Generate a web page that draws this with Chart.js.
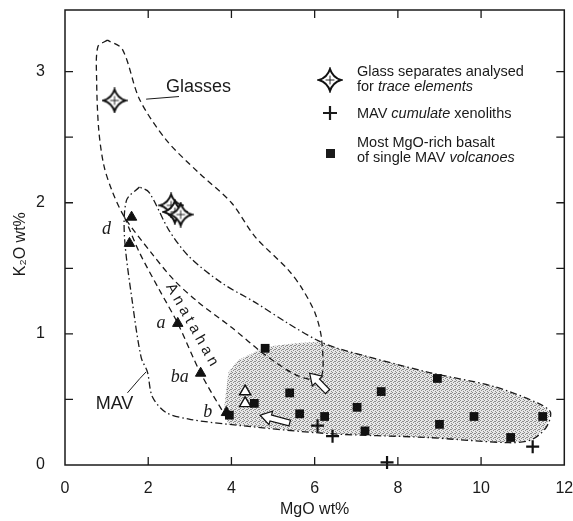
<!DOCTYPE html>
<html>
<head>
<meta charset="utf-8">
<script src="https://cdn.jsdelivr.net/npm/chart.js@4.4.1/dist/chart.umd.min.js"></script>
<style>
  html, body { margin: 0; padding: 0; background: #fff; }
  canvas { display: block; }
</style>
</head>
<body>
<canvas id="chart" width="573" height="521"></canvas>
<script>
// x = MgO wt%, y = K2O wt%
const glassMgO = [1.19, 2.55, 2.64, 2.78];
const glassK2O = [2.78, 1.98, 1.93, 1.91];

const xenoMgO = [6.07, 6.43, 7.74, 11.24];
const xenoK2O = [0.30, 0.22, 0.02, 0.14];

const basaltMgO = [3.95, 4.55, 4.81, 5.40, 5.64, 6.24, 7.02, 7.21, 7.60, 8.95, 9.00, 9.83, 10.71, 11.48];
const basaltK2O = [0.38, 0.47, 0.89, 0.55, 0.39, 0.37, 0.44, 0.26, 0.56, 0.66, 0.31, 0.37, 0.21, 0.37];

// Anatahan samples (d, d, a, ba, b) and the two open triangles
const anaMgO = [1.60, 1.55, 2.71, 3.26, 3.88];
const anaK2O = [1.89, 1.69, 1.08, 0.70, 0.40];
const openTriMgO = [4.33, 4.33];
const openTriK2O = [0.56, 0.47];

// field outlines
const glassEnvMgO = [1.02, 0.79, 0.76, 0.81, 0.93, 1.12, 1.43, 2.07, 2.62, 3.21, 4.00, 4.81, 5.60, 6.14, 6.17, 6.02, 5.71, 5.36, 4.57, 4.00, 3.21, 2.43, 1.79, 1.38, 1.02];
const glassEnvK2O = [3.24, 3.19, 2.94, 2.56, 2.29, 2.10, 1.89, 1.62, 1.41, 1.24, 1.05, 0.84, 0.68, 0.66, 0.95, 1.15, 1.34, 1.49, 1.74, 2.00, 2.23, 2.48, 2.79, 3.17, 3.24];

const anaLineMgO = [1.43, 1.79, 2.26, 2.71, 3.26, 3.88];
const anaLineK2O = [1.89, 1.62, 1.34, 1.08, 0.70, 0.36];

const mavEnvMgO = [1.79, 1.48, 1.43, 1.62, 1.83, 1.98, 2.10, 2.43, 2.98, 3.93, 6.31, 8.69, 10.67, 11.19, 11.55, 11.67, 11.38, 10.29, 8.69, 6.55, 6.07, 5.36, 4.57, 3.76, 2.98, 2.50, 2.02, 1.79];
const mavEnvK2O = [2.12, 2.02, 1.74, 1.24, 0.82, 0.71, 0.52, 0.40, 0.35, 0.31, 0.24, 0.21, 0.17, 0.19, 0.28, 0.40, 0.47, 0.60, 0.71, 0.89, 0.95, 1.08, 1.24, 1.39, 1.59, 1.79, 2.08, 2.12];

const shadeMgO = [3.81, 3.93, 4.17, 4.81, 5.60, 6.07, 6.55, 8.69, 10.29, 11.38, 11.67, 11.55, 11.19, 10.67, 8.69, 6.31, 3.93];
const shadeK2O = [0.40, 0.71, 0.80, 0.90, 0.93, 0.94, 0.89, 0.71, 0.60, 0.47, 0.40, 0.28, 0.19, 0.17, 0.21, 0.24, 0.31];

// open arrows: tail -> tip
const arrowTailMgO = [6.31, 5.40];
const arrowTailK2O = [0.56, 0.32];
const arrowTipMgO = [5.88, 4.69];
const arrowTipK2O = [0.70, 0.38];

// axis ticks
const xTickValues = [0, 2, 4, 6, 8, 10, 12];
const yTickValues = [0, 0.5, 1, 1.5, 2, 2.5, 3];

// text labels in the plot
const noteText = ['Glasses', 'MAV', 'd', 'a', 'ba', 'b'];
const noteMgO = [3.21, 1.19, 1.00, 2.31, 2.76, 3.43];
const noteK2O = [2.885, 0.466, 1.80, 1.08, 0.67, 0.40];

function pts(xs, ys) {
    return xs.map((x, i) => ({ x: x, y: ys[i] }));
}

function makeStar(R) {
    let c = document.createElement('canvas');
    let s = Math.ceil(R * 2 + 4);
    c.width = s;
    c.height = s;
    let g = c.getContext('2d');
    let m = s / 2;
    let k = R * 0.24;
    g.beginPath();
    g.moveTo(m, m - R);
    g.quadraticCurveTo(m + k, m - k, m + R, m);
    g.quadraticCurveTo(m + k, m + k, m, m + R);
    g.quadraticCurveTo(m - k, m + k, m - R, m);
    g.quadraticCurveTo(m - k, m - k, m, m - R);
    g.closePath();
    g.fillStyle = '#fff';
    g.fill();
    g.lineWidth = 2;
    g.strokeStyle = '#111';
    g.stroke();
    g.lineWidth = 0.9;
    g.beginPath();
    g.moveTo(m, m - R * 0.4);
    g.lineTo(m, m + R * 0.4);
    g.moveTo(m - R * 0.4, m);
    g.lineTo(m + R * 0.4, m);
    g.stroke();
    return c;
}
const starImg = makeStar(11);

function makeStipple() {
    let c = document.createElement('canvas');
    c.width = 4;
    c.height = 4;
    let g = c.getContext('2d');
    g.fillStyle = '#e8e8e8';
    g.fillRect(0, 0, 4, 4);
    g.fillStyle = '#8c8c8c';
    [[0, 0], [2, 1], [1, 2], [3, 3], [3, 1]].forEach(p => g.fillRect(p[0], p[1], 1, 1));
    return c;
}

function drawOpenArrow(ctx, x1, y1, x2, y2) {
    let L = Math.hypot(x2 - x1, y2 - y1);
    let a = Math.atan2(y2 - y1, x2 - x1);
    let hl = 11, hw = 7, sw = 3;
    ctx.save();
    ctx.translate(x1, y1);
    ctx.rotate(a);
    ctx.beginPath();
    ctx.moveTo(0, -sw);
    ctx.lineTo(L - hl, -sw);
    ctx.lineTo(L - hl, -hw);
    ctx.lineTo(L, 0);
    ctx.lineTo(L - hl, hw);
    ctx.lineTo(L - hl, sw);
    ctx.lineTo(0, sw);
    ctx.closePath();
    ctx.fillStyle = '#fff';
    ctx.fill();
    ctx.lineWidth = 1.2;
    ctx.strokeStyle = '#111';
    ctx.setLineDash([]);
    ctx.stroke();
    ctx.restore();
}

const shadePlugin = {
    id: 'shade',
    beforeDatasetsDraw(chart) {
        let ctx = chart.ctx;
        let xs = chart.scales.x, ys = chart.scales.y;
        ctx.save();
        ctx.beginPath();
        shadeMgO.forEach((v, i) => {
            let px = xs.getPixelForValue(v), py = ys.getPixelForValue(shadeK2O[i]);
            i === 0 ? ctx.moveTo(px, py) : ctx.lineTo(px, py);
        });
        ctx.closePath();
        ctx.fillStyle = ctx.createPattern(makeStipple(), 'repeat');
        ctx.fill();
        ctx.restore();
    }
};

const framePlugin = {
    id: 'frame',
    afterDatasetsDraw(chart) {
        let ctx = chart.ctx;
        let a = chart.chartArea;
        let xs = chart.scales.x, ys = chart.scales.y;
        let tl = 8;
        ctx.save();
        ctx.strokeStyle = '#1a1a1a';
        ctx.lineWidth = 1.5;
        ctx.strokeRect(a.left, a.top, a.right - a.left, a.bottom - a.top);
        ctx.lineWidth = 1.3;
        ctx.beginPath();
        xTickValues.forEach(v => {
            if (v === 0 || v === 12) return;
            let px = xs.getPixelForValue(v);
            ctx.moveTo(px, a.bottom);
            ctx.lineTo(px, a.bottom - tl);
            ctx.moveTo(px, a.top);
            ctx.lineTo(px, a.top + tl);
        });
        yTickValues.forEach(v => {
            if (v === 0) return;
            let py = ys.getPixelForValue(v);
            ctx.moveTo(a.left, py);
            ctx.lineTo(a.left + tl, py);
            ctx.moveTo(a.right, py);
            ctx.lineTo(a.right - tl, py);
        });
        ctx.stroke();

        // arrows
        arrowTailMgO.forEach((v, i) => {
            drawOpenArrow(ctx,
                xs.getPixelForValue(v), ys.getPixelForValue(arrowTailK2O[i]),
                xs.getPixelForValue(arrowTipMgO[i]), ys.getPixelForValue(arrowTipK2O[i]));
        });

        // labels
        ctx.fillStyle = '#1a1a1a';
        ctx.textAlign = 'center';
        ctx.textBaseline = 'middle';
        noteText.forEach((t, i) => {
            let px = xs.getPixelForValue(noteMgO[i]), py = ys.getPixelForValue(noteK2O[i]);
            if (t === 'Glasses' || t === 'MAV') {
                ctx.font = '18px "Liberation Sans", Arial, sans-serif';
            } else {
                ctx.font = 'italic 18px "Liberation Serif", "Times New Roman", serif';
            }
            ctx.fillText(t, px, py);
        });

        // leader lines
        ctx.lineWidth = 1;
        ctx.beginPath();
        ctx.moveTo(xs.getPixelForValue(2.74), ys.getPixelForValue(2.81));
        ctx.lineTo(xs.getPixelForValue(1.95), ys.getPixelForValue(2.79));
        ctx.moveTo(xs.getPixelForValue(1.50), ys.getPixelForValue(0.55));
        ctx.lineTo(xs.getPixelForValue(1.80), ys.getPixelForValue(0.66));
        ctx.lineTo(xs.getPixelForValue(1.95), ys.getPixelForValue(0.71));
        ctx.stroke();

        // Anatahan, written along its trend
        ctx.save();
        ctx.translate(xs.getPixelForValue(3.05), ys.getPixelForValue(1.07));
        ctx.rotate(60.8 * Math.PI / 180);
        ctx.font = '15px "Liberation Sans", Arial, sans-serif';
        ctx.letterSpacing = '4px';
        ctx.fillText('Anatahan', 2, 0);
        ctx.restore();

        // key
        ctx.textAlign = 'left';
        ctx.drawImage(starImg, 330 - starImg.width / 2, 80 - starImg.height / 2);
        ctx.lineWidth = 2.2;
        ctx.beginPath();
        ctx.moveTo(323, 113); ctx.lineTo(337, 113);
        ctx.moveTo(330, 106); ctx.lineTo(330, 120);
        ctx.stroke();
        ctx.fillRect(326, 149, 9, 9);
        let plain = '14.5px "Liberation Sans", Arial, sans-serif';
        let slant = 'italic 14.5px "Liberation Sans", Arial, sans-serif';
        ctx.font = plain;
        ctx.fillText('Glass separates analysed', 357, 72);
        ctx.fillText('for ', 357, 87);
        let w = ctx.measureText('for ').width;
        ctx.font = slant;
        ctx.fillText('trace elements', 357 + w, 87);
        ctx.font = plain;
        ctx.fillText('MAV ', 357, 114);
        w = ctx.measureText('MAV ').width;
        ctx.font = slant;
        ctx.fillText('cumulate', 357 + w, 114);
        w += ctx.measureText('cumulate ').width;
        ctx.font = plain;
        ctx.fillText('xenoliths', 357 + w, 114);
        ctx.fillText('Most MgO-rich basalt', 357, 143);
        ctx.fillText('of single MAV ', 357, 158);
        w = ctx.measureText('of single MAV ').width;
        ctx.font = slant;
        ctx.fillText('volcanoes', 357 + w, 158);
        ctx.restore();
    }
};

const lineStyle = {
    showLine: true,
    borderColor: '#1a1a1a',
    borderWidth: 1.3,
    pointRadius: 0,
    tension: 0.3,
    order: 5,
};

new Chart(document.getElementById('chart'), {
    type: 'scatter',
    data: {
        datasets: [
            Object.assign({ label: 'Glasses', data: pts(glassEnvMgO, glassEnvK2O), borderDash: [6, 4] }, lineStyle),
            Object.assign({ label: 'Anatahan', data: pts(anaLineMgO, anaLineK2O), borderDash: [6, 4] }, lineStyle),
            Object.assign({ label: 'MAV', data: pts(mavEnvMgO, mavEnvK2O), borderDash: [7, 3, 1.5, 3] }, lineStyle),
            {
                label: 'Most MgO-rich basalt of single MAV volcanoes',
                data: pts(basaltMgO, basaltK2O),
                pointStyle: 'rect', pointRadius: 6.2, backgroundColor: '#111', borderWidth: 0, order: 0, clip: false,
            },
            {
                label: 'MAV cumulate xenoliths',
                data: pts(xenoMgO, xenoK2O),
                pointStyle: 'cross', pointRadius: 6.5, borderColor: '#111', borderWidth: 2.2, order: 0, clip: false,
            },
            {
                label: 'Anatahan',
                data: pts(anaMgO, anaK2O),
                pointStyle: 'triangle', pointRadius: 6, backgroundColor: '#111', borderColor: '#111', borderWidth: 1, order: 0,
            },
            {
                label: 'open',
                data: pts(openTriMgO, openTriK2O),
                pointStyle: 'triangle', pointRadius: 6.5, backgroundColor: '#fff', borderColor: '#111', borderWidth: 1.4, order: 0,
            },
            {
                label: 'Glass separates analysed for trace elements',
                data: pts(glassMgO, glassK2O),
                pointStyle: starImg, order: 0,
            },
        ],
    },
    options: {
        responsive: false,
        animation: false,
        layout: { padding: { top: 10, right: 4, left: 0, bottom: 0 } },
        plugins: { legend: { display: false }, tooltip: { enabled: false } },
        scales: {
            x: {
                type: 'linear', min: 0, max: 12,
                grid: { display: false, drawTicks: false }, border: { display: false },
                ticks: { stepSize: 2, padding: 14, maxRotation: 0, color: '#1a1a1a',
                    font: { size: 16, family: '"Liberation Sans", Arial, sans-serif' } },
                title: { display: true, text: 'MgO wt%', color: '#1a1a1a', padding: { top: 0, bottom: 2 },
                    font: { size: 16, family: '"Liberation Sans", Arial, sans-serif' } },
                afterFit(scale) {
                    scale.height = 56;
                    scale.paddingLeft = 0;
                    scale.paddingRight = 0;
                },
            },
            y: {
                type: 'linear', min: 0, max: 3.47,
                grid: { display: false, drawTicks: false }, border: { display: false },
                ticks: { stepSize: 0.5, padding: 20, color: '#1a1a1a',
                    callback: v => Number.isInteger(v) ? v : '',
                    font: { size: 16, family: '"Liberation Sans", Arial, sans-serif' } },
                title: { display: true, text: 'K₂O wt%   ', color: '#1a1a1a', padding: { top: 11, bottom: 0 },
                    font: { size: 16, family: '"Liberation Sans", Arial, sans-serif' } },
                afterFit(scale) {
                    scale.width = 65;
                    scale.paddingTop = 0;
                    scale.paddingBottom = 0;
                },
            },
        },
    },
    plugins: [shadePlugin, framePlugin],
});
</script>
</body>
</html>
